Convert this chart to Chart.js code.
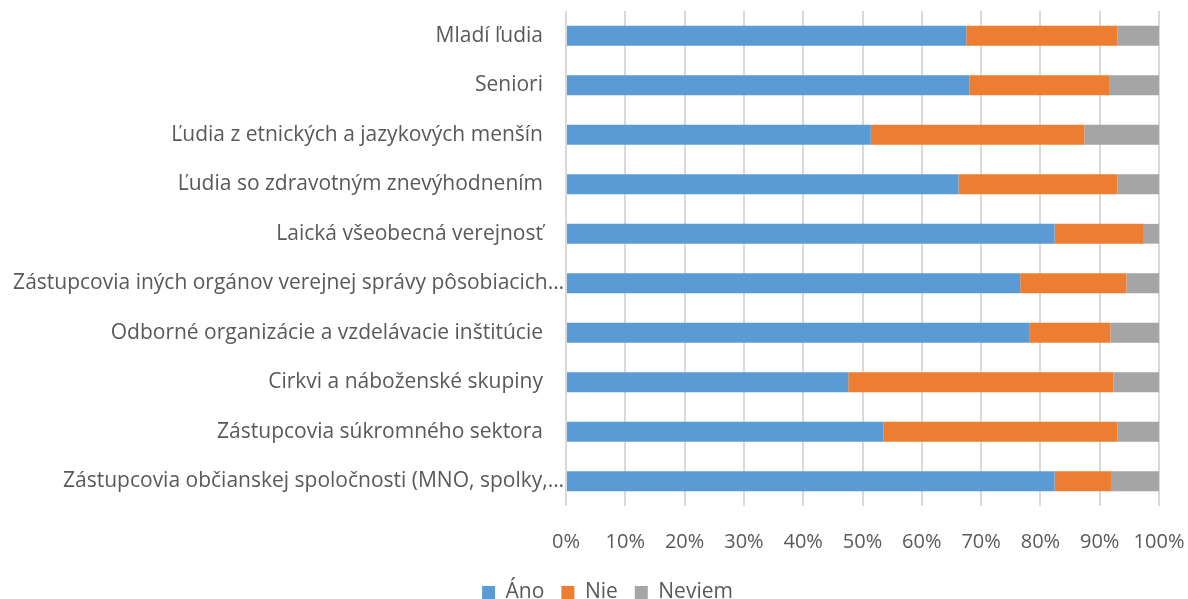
<!DOCTYPE html>
<html lang="sk">
<head>
<meta charset="utf-8">
<title>Skupiny – Áno / Nie / Neviem</title>
<script src="https://cdn.jsdelivr.net/npm/chart.js@4.4.1/dist/chart.umd.min.js"></script>
<style>
  html, body { margin: 0; padding: 0; background: #fff; overflow: hidden; }
  .chart-box { position: relative; width: 1188px; height: 613px; }
</style>
</head>
<body>
<div class="chart-box"><canvas id="groupsChart"></canvas></div>
<script>
'use strict';

// categories as shown (long ones are cut off in the original too)
const categories = [
  'Mladí ľudia',
  'Seniori',
  'Ľudia z etnických a jazykových menšín',
  'Ľudia so zdravotným znevýhodnením',
  'Laická všeobecná verejnosť',
  'Zástupcovia iných orgánov verejnej správy pôsobiacich…',
  'Odborné organizácie a vzdelávacie inštitúcie',
  'Cirkvi a náboženské skupiny',
  'Zástupcovia súkromného sektora',
  'Zástupcovia občianskej spoločnosti (MNO, spolky,…',
];

// shares in %
const ano    = [67.5, 68.0, 51.4, 66.2, 82.4, 76.6, 78.1, 47.6, 53.5, 82.4];
const nie    = [25.5, 23.7, 36.0, 26.8, 14.9, 17.9, 13.7, 44.7, 39.5,  9.5];
const neviem = [ 7.0,  8.3, 12.6,  7.0,  2.7,  5.5,  8.2,  7.7,  7.0,  8.1];

const xTicks = [0, 10, 20, 30, 40, 50, 60, 70, 80, 90, 100];

const TEXT = '#595959';
const FONT = "'Open Sans', 'Liberation Sans', sans-serif";

function dataset(label, data, color) {
  return {
    label,
    data,
    backgroundColor: color,
    borderWidth: 0,
    barPercentage: 0.4,
    categoryPercentage: 1,
  };
}

// the legend in the original sits a bit right of the canvas centre
const legendShift = {
  id: 'legendShift',
  afterLayout(chart) {
    chart.legend.left  += 28;
    chart.legend.right += 28;
  },
};

new Chart(document.getElementById('groupsChart'), {
  type: 'bar',
  data: {
    labels: categories,
    datasets: [
      dataset('Áno', ano, '#5B9BD5'),
      dataset('Nie', nie, '#ED7D31'),
      dataset('Neviem', neviem, '#A5A5A5'),
    ],
  },
  plugins: [legendShift],
  options: {
    indexAxis: 'y',
    responsive: true,
    maintainAspectRatio: false,
    animation: false,
    layout: { padding: { top: 11, right: 29, left: 0, bottom: 0 } },
    scales: {
      x: {
        stacked: true,
        min: 0,
        max: 100,
        afterBuildTicks: (scale) => { scale.ticks = xTicks.map(v => ({ value: v })); },
        afterFit: (scale) => {
          scale.height = 59;
          scale.paddingLeft = 0;
          scale.paddingRight = 0;
        },
        border: { display: false },
        grid: { color: '#d9d9d9', lineWidth: 2, drawTicks: false },
        ticks: {
          padding: 24,
          color: TEXT,
          font: { size: 20, family: FONT },
          callback: (v) => v + '%',
        },
      },
      y: {
        stacked: true,
        afterFit: (scale) => {
          scale.width = 566;
          scale.paddingTop = 0;
          scale.paddingBottom = 0;
        },
        border: { display: false },
        grid: { display: false, drawTicks: false },
        ticks: {
          padding: 2,
          autoSkip: false,
          color: TEXT,
          font: { size: 21, family: FONT },
          // cut-off labels run right up to the axis, the rest keep a gap
          callback: function (v) {
            const name = this.getLabelForValue(v);
            return name.endsWith('…') ? name : name + '\u2003';
          },
        },
      },
    },
    plugins: {
      legend: {
        position: 'bottom',
        labels: {
          boxWidth: 13,
          boxHeight: 13,
          padding: 17,
          color: TEXT,
          font: { size: 21, family: FONT },
        },
      },
      tooltip: { enabled: false },
    },
  },
});
</script>
</body>
</html>
